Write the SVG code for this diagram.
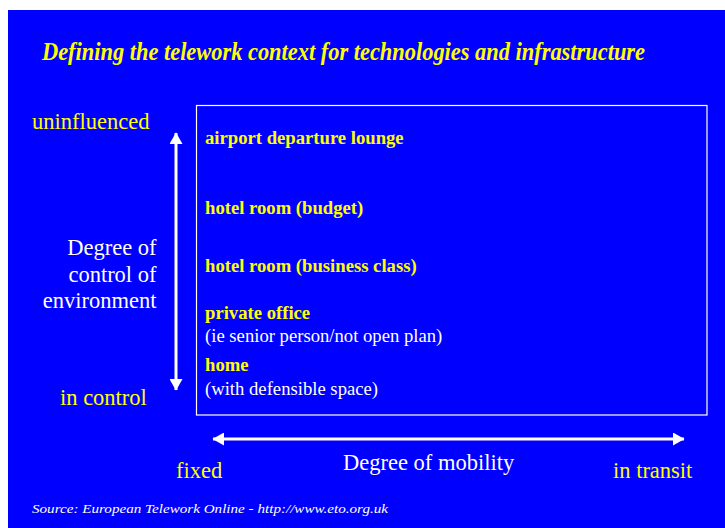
<svg xmlns="http://www.w3.org/2000/svg" width="725" height="528" viewBox="0 0 725 528">
<style>
.y{fill:#FFFF00}
.w{fill:#FFFFFF}
.s{font-family:"Liberation Serif","Times New Roman",serif}
.lab{font-size:22.5px}
.bx{font-size:18.67px}
.b{font-weight:bold}
.conn{stroke:#FFFFFF;stroke-width:3;fill:none}
</style>
<defs>
<marker id="ah" markerUnits="userSpaceOnUse" markerWidth="12" markerHeight="13" refX="11" refY="6.5" orient="auto-start-reverse" viewBox="0 0 12 13">
<path d="M0,0 L11.5,6.5 L0,13 z" fill="#FFFFFF"/>
</marker>
</defs>
<rect x="0" y="0" width="725" height="528" fill="#FFFFFF"/>
<rect x="8" y="10" width="717" height="518" fill="#0000FF"/>
<text id="title" class="s y b" x="42" y="60" font-size="25" font-style="italic" textLength="603" lengthAdjust="spacingAndGlyphs">Defining the telework context for technologies and infrastructure</text>
<g id="box">
<rect x="196.5" y="105.5" width="510.5" height="309.5" fill="none" stroke="#FFFFFF" stroke-width="1.2"/>
</g>
<g id="airport"><text class="s y b bx" x="205" y="144">airport departure lounge</text></g>
<g id="hotel-budget"><text class="s y b bx" x="205" y="214">hotel room (budget)</text></g>
<g id="hotel-business"><text class="s y b bx" x="205" y="272">hotel room (business class)</text></g>
<g id="private-office"><text class="s y b bx" x="205" y="319">private office</text><text class="s w bx" x="205" y="342">(ie senior person/not open plan)</text></g>
<g id="home"><text class="s y b bx" x="205" y="371">home</text><text class="s w bx" x="205" y="395">(with defensible space)</text></g>
<g id="connectors">
<line class="conn" x1="176" y1="133" x2="176" y2="390" marker-start="url(#ah)" marker-end="url(#ah)"/>
<line class="conn" x1="213" y1="439" x2="684" y2="439" marker-start="url(#ah)" marker-end="url(#ah)"/>
</g>
<g id="y-axis">
<text class="s y lab" x="32" y="129">uninfluenced</text>
<text class="s w lab" x="156.5" y="255" text-anchor="end">Degree of</text>
<text class="s w lab" x="156.5" y="282" text-anchor="end">control of</text>
<text class="s w lab" x="156.5" y="308" text-anchor="end">environment</text>
<text class="s y lab" x="60" y="405">in control</text>
</g>
<g id="x-axis">
<text class="s y lab" x="176" y="478">fixed</text>
<text class="s w lab" x="343" y="470">Degree of mobility</text>
<text class="s y lab" x="613" y="478">in transit</text>
</g>
<text id="source" class="s w" x="32" y="513" font-size="13.5" font-style="italic" textLength="356" lengthAdjust="spacingAndGlyphs">Source: European Telework Online - http://www.eto.org.uk</text>
</svg>
